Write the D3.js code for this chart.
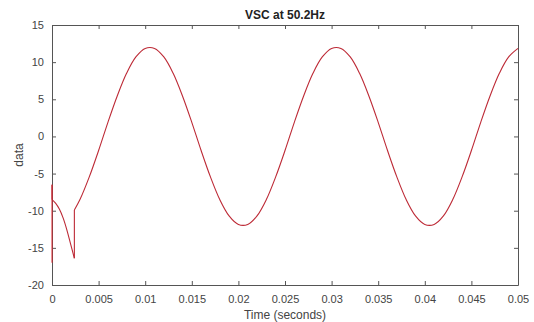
<!DOCTYPE html>
<html>
<head>
<meta charset="utf-8">
<script src="https://cdn.jsdelivr.net/npm/d3@7"></script>
<style>
  body { margin: 0; background: #fff; }
  svg text { font-family: "Liberation Sans", Arial, sans-serif; }
</style>
</head>
<body>
<svg id="chart" width="534" height="322"></svg>
<script>
// values
var xTicks = [0, 0.005, 0.01, 0.015, 0.02, 0.025, 0.03, 0.035, 0.04, 0.045, 0.05]
var yTicks = [-20, -15, -10, -5, 0, 5, 10, 15]

// start-up transient, vertical step at t=0 then dip
var jumpT = [0, 0]
var jumpV = [-17, -6.5]
var transT = [0, 0.0004, 0.0008, 0.0012, 0.0016, 0.002, 0.0024]
var transV = [-8.5, -9.0, -9.8, -11.0, -12.6, -14.5, -16.4]

// steady state wave after the step at t=0.0024
var waveT = [0.0024, 0.003, 0.004, 0.005, 0.006, 0.007, 0.008, 0.009, 0.010,
  0.011, 0.012, 0.013, 0.014, 0.015, 0.016, 0.017, 0.018, 0.019, 0.020,
  0.021, 0.022, 0.023, 0.024, 0.025, 0.026, 0.027, 0.028, 0.029, 0.030,
  0.031, 0.032, 0.033, 0.034, 0.035, 0.036, 0.037, 0.038, 0.039, 0.040,
  0.041, 0.042, 0.043, 0.044, 0.045, 0.046, 0.047, 0.048, 0.049, 0.050]
var waveV = [-9.9, -8.5, -5.45, -1.9, 1.9, 5.45, 8.5, 10.7, 11.85,
  11.85, 10.7, 8.5, 5.45, 1.9, -1.9, -5.45, -8.5, -10.7, -11.85,
  -11.85, -10.7, -8.5, -5.45, -1.9, 1.9, 5.45, 8.5, 10.7, 11.85,
  11.85, 10.7, 8.5, 5.45, 1.9, -1.9, -5.45, -8.5, -10.7, -11.85,
  -11.85, -10.7, -8.5, -5.45, -1.9, 1.9, 5.45, 8.5, 10.7, 11.85]

//
// Layout
//
var margin = {top: 25, right: 16, bottom: 37, left: 52}
var width = 534 - margin.left - margin.right
var height = 322 - margin.top - margin.bottom
var axisColor = '#555'
var lineColor = '#bd2a36'

var svg = d3.select('#chart')
var g = svg.append('g').attr('transform', 'translate(' + margin.left + ',' + margin.top + ')')

var x = d3.scaleLinear().domain([0, 0.05]).range([0, width])
var y = d3.scaleLinear().domain([-20, 15]).range([height, 0])

function zip(ts, vs) {
  return ts.map(function(t, i) { return [t, vs[i]] })
}

//
// Axes (box with inward ticks)
//
function styleAxis(sel) {
  sel.selectAll('path').attr('stroke', axisColor)
  sel.selectAll('line').attr('stroke', axisColor)
  sel.selectAll('text').attr('fill', '#444').attr('font-size', 11)
}

g.append('g')
  .attr('transform', 'translate(0,' + height + ')')
  .call(d3.axisBottom(x).tickValues(xTicks).tickFormat(function(d) { return String(+d.toFixed(3)) })
    .tickSizeInner(-4).tickSizeOuter(0).tickPadding(10))
  .call(styleAxis)

g.append('g')
  .call(d3.axisTop(x).tickValues(xTicks).tickFormat('').tickSizeInner(-4).tickSizeOuter(0))
  .call(styleAxis)

// matlab prints a plain hyphen for negatives
g.append('g')
  .call(d3.axisLeft(y).tickValues(yTicks).tickFormat(function(d) { return String(d) })
    .tickSizeInner(-4).tickSizeOuter(0).tickPadding(8))
  .call(styleAxis)

g.append('g')
  .attr('transform', 'translate(' + width + ',0)')
  .call(d3.axisRight(y).tickValues(yTicks).tickFormat('').tickSizeInner(-4).tickSizeOuter(0))
  .call(styleAxis)

//
// Lines
//
var linear = d3.line().x(function(d) { return x(d[0]) }).y(function(d) { return y(d[1]) })
var smooth = d3.line().curve(d3.curveCatmullRom.alpha(0.5))
  .x(function(d) { return x(d[0]) }).y(function(d) { return y(d[1]) })

g.append('path').datum(zip(jumpT, jumpV))
  .attr('d', linear).attr('fill', 'none').attr('stroke', '#e0202a').attr('stroke-width', 1)

g.append('path').datum([[jumpT[1], jumpV[1]], [transT[0], transV[0]]])
  .attr('d', linear).attr('fill', 'none').attr('stroke', lineColor).attr('stroke-width', 1)

g.append('path').datum(zip(transT, transV))
  .attr('d', smooth).attr('fill', 'none').attr('stroke', lineColor).attr('stroke-width', 1.1)

g.append('path').datum([[transT[6], transV[6]], [waveT[0], waveV[0]]])
  .attr('d', linear).attr('fill', 'none').attr('stroke', lineColor).attr('stroke-width', 1.1)

g.append('path').datum(zip(waveT, waveV))
  .attr('d', smooth).attr('fill', 'none').attr('stroke', lineColor).attr('stroke-width', 1.1)

//
// Labels
//
svg.append('text')
  .attr('x', margin.left + width / 2).attr('y', 19)
  .attr('text-anchor', 'middle').attr('font-size', 12).attr('font-weight', 'bold')
  .attr('fill', '#222').text('VSC at 50.2Hz')

svg.append('text')
  .attr('x', margin.left + width / 2).attr('y', 319)
  .attr('text-anchor', 'middle').attr('font-size', 12)
  .attr('fill', '#444').text('Time (seconds)')

svg.append('text')
  .attr('transform', 'translate(23,' + (margin.top + height / 2) + ') rotate(-90)')
  .attr('text-anchor', 'middle').attr('font-size', 12)
  .attr('fill', '#444').text('data')
</script>
</body>
</html>
